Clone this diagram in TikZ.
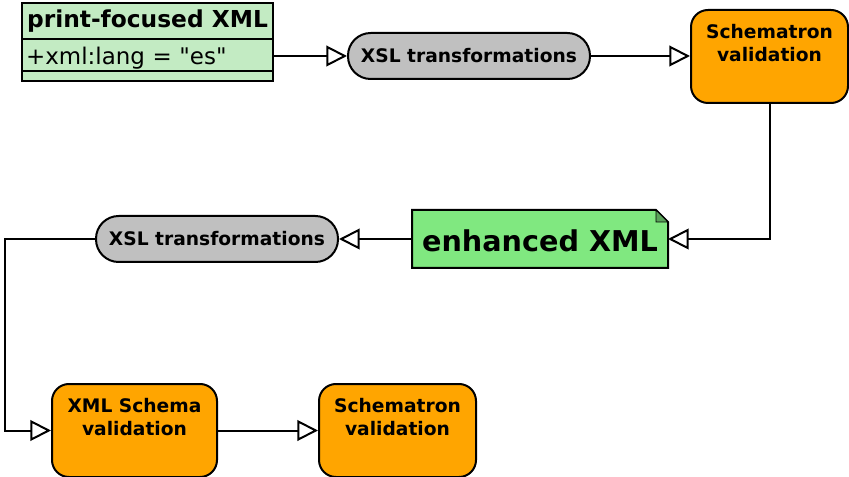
\documentclass[tikz,border=0pt]{standalone}
\usepackage{fontspec}
\setmainfont{DejaVu Sans}
\usetikzlibrary{arrows.meta}

\definecolor{classgreen}{RGB}{195,235,195}
\definecolor{notegreen}{RGB}{128,232,128}
\definecolor{steporange}{RGB}{255,165,0}
\definecolor{pillgray}{RGB}{192,192,192}

\begin{document}
\begin{tikzpicture}[x=0.75pt,y=-0.75pt,
  line width=1.5pt,
  flow/.style={-{Triangle[fill=white,length=15.5pt,width=15.5pt]}},
  classrow/.style={draw,fill=classgreen,minimum width=188.25pt,inner sep=0pt},
  pill/.style={draw,fill=pillgray,rounded corners=17pt,minimum width=181.5pt,
    minimum height=34.5pt,font=\fontsize{14}{17}\selectfont\bfseries},
  check/.style={draw,fill=steporange,rounded corners=12.75pt,minimum height=69.75pt},
  checktext/.style={anchor=north,align=center,inner sep=0pt,
    font=\fontsize{14}{17}\selectfont\bfseries}]
  \useasboundingbox (0,0) rectangle (849,477);

  % source document as a class box
  \node[classrow,minimum height=27pt,font=\fontsize{17.5}{20}\selectfont\bfseries]
    (title) at (147.5,21) {print-focused XML};
  \node[classrow,minimum height=24pt,text width=182pt,align=left,
    font=\fontsize{17.2}{20}\selectfont] (attr) at (147.5,55)
    {\raisebox{-7.5pt}[0pt][0pt]{+xml:lang = \textquotedbl es\textquotedbl}};
  \node[classrow,minimum height=7.5pt] (ops) at (147.5,76) {};

  % first pass
  \node[pill] (xsla) at (469,56) {XSL transformations};
  \node[check,minimum width=117.75pt] (scha) at (769.5,56.5) {};
  \node[checktext] (schatext) at ([yshift=-11pt]scha.north) {Schematron\\validation};

  % enhanced document, note with folded corner
  \node[minimum width=190.5pt,minimum height=42pt,inner sep=0pt] (enh) at (540,239) {};
  \filldraw[fill=notegreen] (enh.north west) -- ([xshift=-9pt]enh.north east)
    -- ([yshift=-9pt]enh.north east) -- (enh.south east) -- (enh.south west) -- cycle;
  \filldraw[fill=notegreen!70!black,line width=0.6pt] ([xshift=-9pt]enh.north east)
    -- ([xshift=-9pt,yshift=-9pt]enh.north east) -- ([yshift=-9pt]enh.north east) -- cycle;
  \node[font=\fontsize{21.5}{25}\selectfont\bfseries] (enhtext) at ([yshift=-1pt]enh) {enhanced XML};

  % second pass
  \node[pill] (xslb) at (217,239) {XSL transformations};
  \node[check,minimum width=123.75pt] (xsd) at (134.5,430.5) {};
  \node[checktext] (xsdtext) at ([yshift=-11pt]xsd.north) {XML Schema\\validation};
  \node[check,minimum width=117.75pt] (schb) at (397.5,430.5) {};
  \node[checktext] (schbtext) at ([yshift=-11pt]schb.north) {Schematron\\validation};

  % connectors
  \coordinate (bend) at (5,239);
  \draw[flow] (attr.east |- xsla.west) -- (xsla.west);
  \draw[flow] (xsla.east) -- (xsla.east -| scha.west);
  \draw[flow] (scha.south) |- (enh.east);
  \draw[flow] (enh.west) -- (xslb.east);
  \draw[flow] (xslb.west) -- (bend) |- (xsd.west);
  \draw[flow] (xsd.east) -- (schb.west);
\end{tikzpicture}
\end{document}
